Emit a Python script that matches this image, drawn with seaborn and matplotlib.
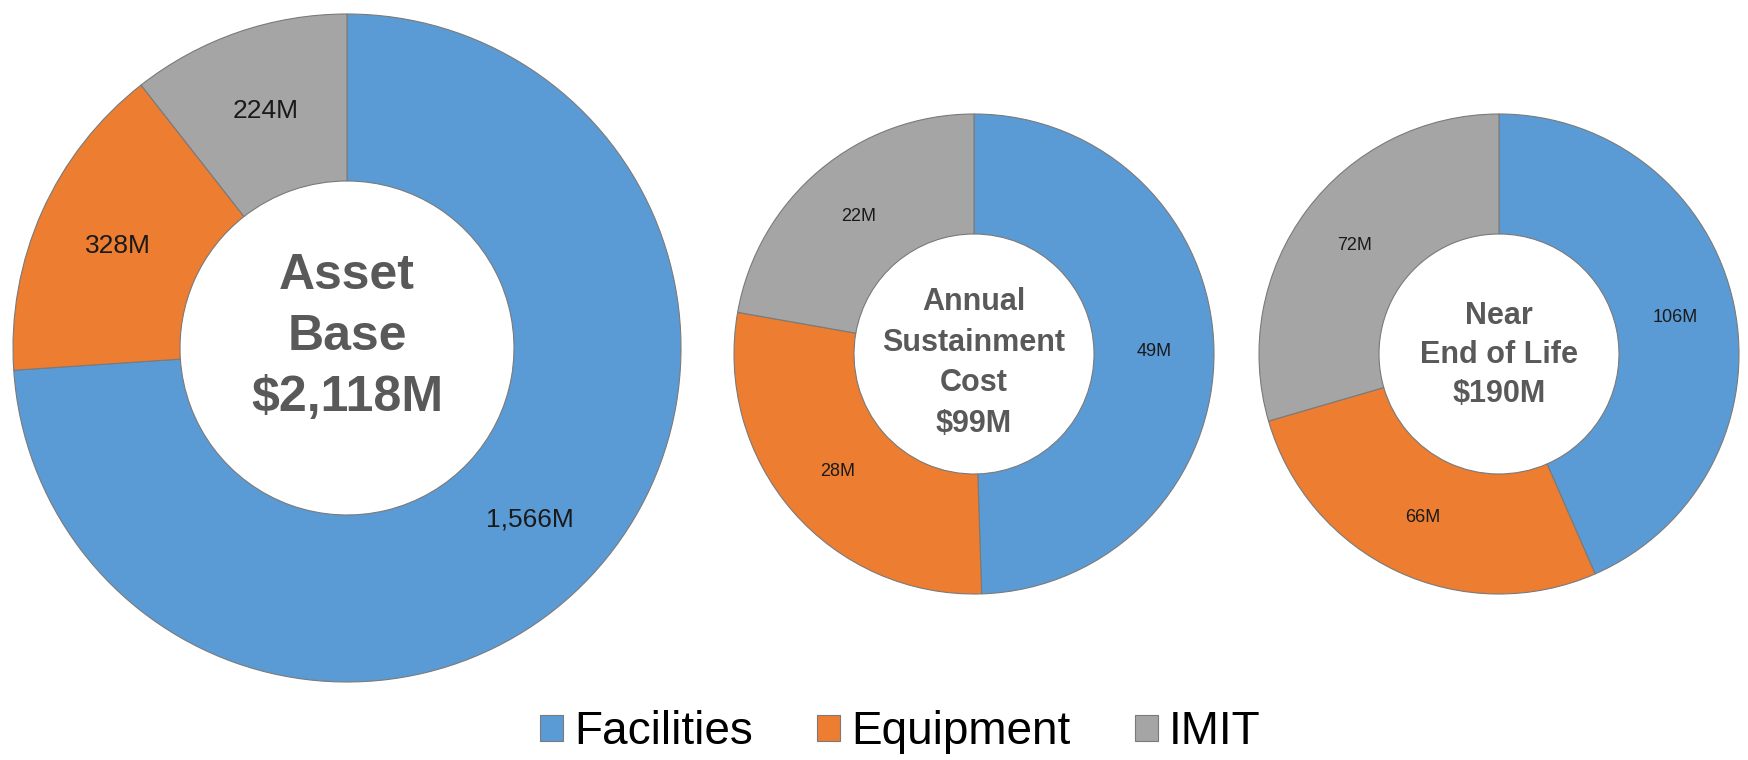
import matplotlib
matplotlib.use("Agg")
import matplotlib.pyplot as plt
from matplotlib.patches import Patch
import seaborn as sns

# data
categories = ["Facilities", "Equipment", "IMIT"]
asset_base = [1566, 328, 224]
sustainment_cost = [49, 28, 22]
end_of_life = [106, 66, 72]
center_titles = ["Asset\nBase\n$2,118M",
                 "Annual\nSustainment\nCost\n$99M",
                 "Near\nEnd of Life\n$190M"]

sns.set_theme(style="white")
plt.rcParams["font.family"] = ["Liberation Sans", "DejaVu Sans"]

palette = sns.color_palette(["#5B9BD5", "#ED7D31", "#A5A5A5"])

W, H = 1748, 760
fig = plt.figure(figsize=(W / 100, H / 100), dpi=100)
ax = fig.add_axes([0, 0, 1, 1])

# (values, center x, center y, radius, label size, title size, title linespacing, title offset)
donuts = [
    (asset_base, 347, 412, 334, 19, 36, 1.42, 11),
    (sustainment_cost, 974, 406, 240, 13, 22, 1.45, -9),
    (end_of_life, 1499, 406, 240, 13, 22, 1.38, -1),
]

for (vals, cx, cy, r, lsize, tsize, lsp, toff), title in zip(donuts, center_titles):
    wedges, _, autotexts = ax.pie(
        vals, colors=palette, startangle=90, counterclock=False,
        radius=r, center=(cx, cy), autopct="%1.0f", pctdistance=0.75,
        wedgeprops=dict(width=0.5 * r, edgecolor="#7a7a7a", linewidth=0.8),
        textprops=dict(fontsize=lsize, color="#1a1a1a"))
    for t, v in zip(autotexts, vals):
        t.set_text(f"{v:,}M")
    ax.text(cx, cy + toff, title, ha="center", va="center",
            fontsize=tsize, fontweight="bold", color="#595959",
            linespacing=lsp)

ax.set_xlim(0, W)
ax.set_ylim(0, H)
ax.set_aspect("equal")
ax.axis("off")

handles = [Patch(facecolor=c, edgecolor="#7a7a7a", linewidth=0.8) for c in palette]
leg = fig.legend(handles, categories, loc="center", bbox_to_anchor=(0.515, 0.037),
                 ncol=3, frameon=False, fontsize=33, handlelength=0.5,
                 handleheight=0.5, handletextpad=0.25, columnspacing=1.4)
for t in leg.get_texts():
    t.set_color("black")

fig.savefig("out.png", dpi=100, facecolor="white")
